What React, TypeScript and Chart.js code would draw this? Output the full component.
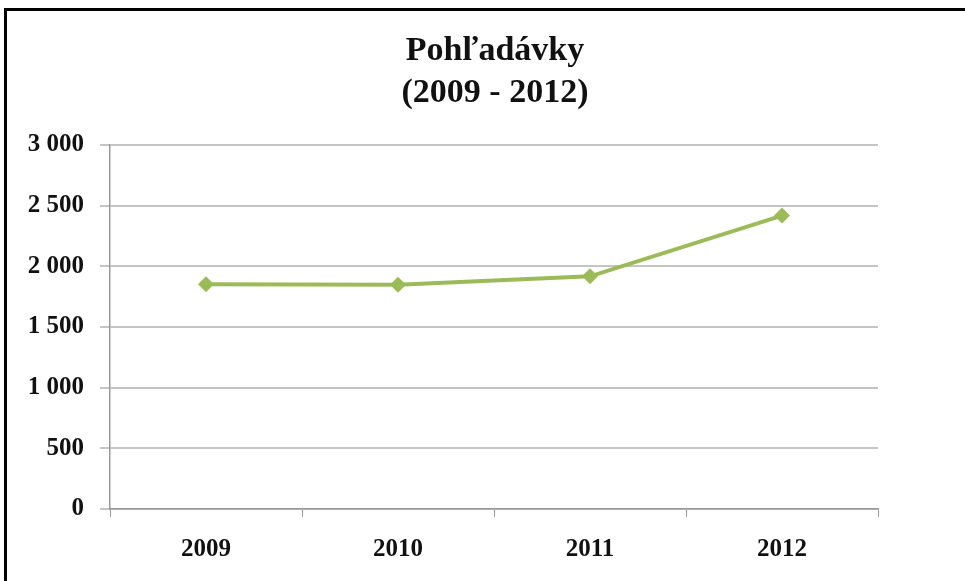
import React, { useEffect, useRef } from "react";
import { Chart, registerables } from "chart.js";

Chart.register(...registerables);

const titleLines = ["Pohľadávky", "(2009 - 2012)"];
const categories = ["2009", "2010", "2011", "2012"];
const values = [1852, 1848, 1918, 2418];
const yTicks = [0, 500, 1000, 1500, 2000, 2500, 3000];

const fmt = (v: number) => {
  const s = String(Math.round(v));
  return s.replace(/\B(?=(\d{3})+(?!\d))/g, " ");
};

const titlePlugin = {
  id: "customTitle",
  afterDraw(chart: any) {
    const ctx = chart.ctx;
    ctx.save();
    ctx.fillStyle = "#111";
    ctx.font = "bold 34px 'Liberation Serif', 'Times New Roman', serif";
    ctx.textAlign = "center";
    ctx.textBaseline = "middle";
    ctx.fillText(titleLines[0], 495, 51);
    ctx.fillText(titleLines[1], 495, 93);
    ctx.restore();
  },
};

export default function App() {
  const ref = useRef<HTMLCanvasElement>(null);
  useEffect(() => {
    if (!ref.current) return;
    const chart = new Chart(ref.current, {
      type: "line",
      data: {
        labels: categories,
        datasets: [
          {
            data: values,
            borderColor: "#9BBB59",
            backgroundColor: "#9BBB59",
            borderWidth: 4,
            pointStyle: "rectRot",
            pointRadius: 8,
            pointBorderWidth: 0,
            tension: 0,
          },
        ],
      },
      options: {
        animation: false,
        responsive: false,
        maintainAspectRatio: false,
        layout: { padding: { left: 0, right: 87, top: 145, bottom: 0 } },
        plugins: { legend: { display: false }, tooltip: { enabled: false }, title: { display: false } },
        scales: {
          x: {
            type: "category",
            offset: true,
            afterFit(scale: any) {
              scale.height = 72;
            },
            grid: {
              offset: true,
              drawOnChartArea: false,
              drawTicks: true,
              tickLength: 8,
              color: "#999",
              lineWidth: 1,
            },
            border: { display: true, color: "#999", width: 1.5 },
            ticks: {
              color: "#111",
              padding: 18,
              font: { family: "'Liberation Serif', 'Times New Roman', serif", size: 25, weight: "bold" },
            },
          },
          y: {
            min: 0,
            max: 3000,
            afterFit(scale: any) {
              scale.width = 110;
            },
            afterBuildTicks(scale: any) {
              scale.ticks = yTicks.map((v) => ({ value: v }));
            },
            grid: {
              color: "#c4c4c4",
              lineWidth: 2,
              drawTicks: true,
              tickLength: 10,
            },
            border: { display: true, color: "#999", width: 1.5 },
            ticks: {
              color: "#111",
              padding: 16,
              callback: (v: any) => fmt(Number(v)),
              font: { family: "'Liberation Serif', 'Times New Roman', serif", size: 25, weight: "bold" },
            },
          },
        },
      },
      plugins: [titlePlugin],
    });
    return () => chart.destroy();
  }, []);
  return (
    <div style={{ position: "fixed", left: 0, top: 0, width: 965, height: 581, background: "#fff" }}>
      <canvas ref={ref} width={965} height={581} style={{ position: "absolute", left: 0, top: 0 }} />
      <div
        style={{
          position: "absolute",
          left: 4,
          top: 8,
          right: 0,
          bottom: 0,
          borderLeft: "3px solid #000",
          borderTop: "3px solid #000",
          pointerEvents: "none",
        }}
      />
    </div>
  );
}
